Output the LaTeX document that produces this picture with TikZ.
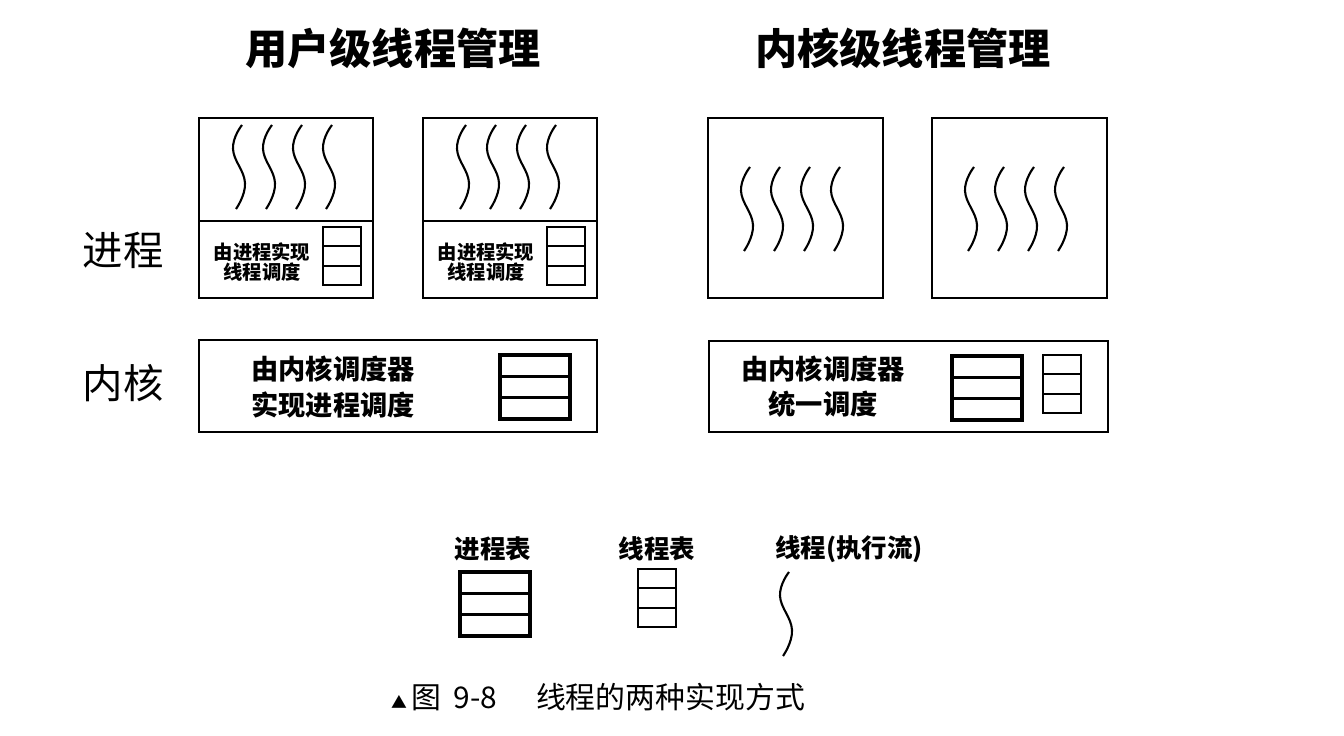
\documentclass[tikz,border=0pt]{standalone}
\usepackage{fontspec}
\setmainfont{Noto Sans CJK SC}
\usetikzlibrary{calc,positioning}

\begin{document}
\begin{tikzpicture}[x=0.02cm, y=-0.02cm,
	box/.style={draw, line width=1.1pt},
	head/.style={font=\fontsize{24}{28}\selectfont\bfseries},
	side/.style={font=\fontsize{23}{28}\selectfont},
	small/.style={align=center, font=\fontsize{11}{11.5}\selectfont\bfseries},
	kern/.style={align=center, font=\fontsize{15.5}{20}\selectfont\bfseries},
	legend/.style={font=\fontsize{14.5}{18}\selectfont\bfseries},
	threadline/.pic={\draw[line width=1.2pt] plot[smooth, tension=0.75] coordinates {(0,0) (-9,24) (3,58) (-6,84)};},
	proctable/.pic={\draw[line width=1.8pt] (0,0) rectangle (70,64) (0,21.3) -- (70,21.3) (0,42.7) -- (70,42.7);},
	thrtable/.pic={\draw[line width=1.1pt] (0,0) rectangle (38,58) (0,19.3) -- (38,19.3) (0,38.7) -- (38,38.7);}
	]
	\useasboundingbox (0,0) rectangle (1344,736);

	% titles
	\node[head] at (393, 48) (userhead) {用户级线程管理};
	\node[head] at (903, 48) (kernhead) {内核级线程管理};
	\node[side] at (123, 250) (proclabel) {进程};
	\node[side] at (123, 383) (kernlabel) {内核};

	% user level: two processes
	\foreach \dx/\nm in {0/pa, 224/pb} {
		\draw[box] (199+\dx, 118) rectangle (373+\dx, 298);
		\draw[box] (199+\dx, 221) -- (373+\dx, 221);
		\foreach \tx in {242, 272, 302, 332}
			\pic at (\tx+\dx, 125) {threadline};
		\pic at (323+\dx, 227) {thrtable};
		\node[small] at (262+\dx, 262) (\nm) {由进程实现\\线程调度};
	}
	\draw[box] (199, 340) rectangle (597, 432);
	\node[kern] at (333, 387) (userkern) {由内核调度器\\实现进程调度};
	\pic at (500, 355) {proctable};

	% kernel level: two processes
	\foreach \dx in {0, 224} {
		\draw[box] (708+\dx, 118) rectangle (883+\dx, 298);
		\foreach \tx in {750, 780, 810, 840}
			\pic at (\tx+\dx, 167) {threadline};
	}
	\draw[box] (709, 341) rectangle (1108, 432);
	\node[kern] at (823, 387) (kernkern) {由内核调度器\\统一调度};
	\pic at (952, 356) {proctable};
	\pic at (1043, 355) {thrtable};

	% legend
	\node[legend] at (493, 549) (lgproc) {进程表};
	\node[legend] at (657, 549) (lgthr) {线程表};
	\node[legend] at (849, 549) (lgflow) {线程(执行流)};
	\pic at (460, 572) {proctable};
	\pic at (638, 569) {thrtable};
	\pic at (789, 572) {threadline};

	% caption
	\node[font=\fontsize{17}{20}\selectfont] at (598, 697) (caption) {{\fontsize{9}{10}\selectfont ▲}\,图\hspace{0.4em}9-8\hspace{1.3em}线程的两种实现方式};
\end{tikzpicture}
\end{document}
